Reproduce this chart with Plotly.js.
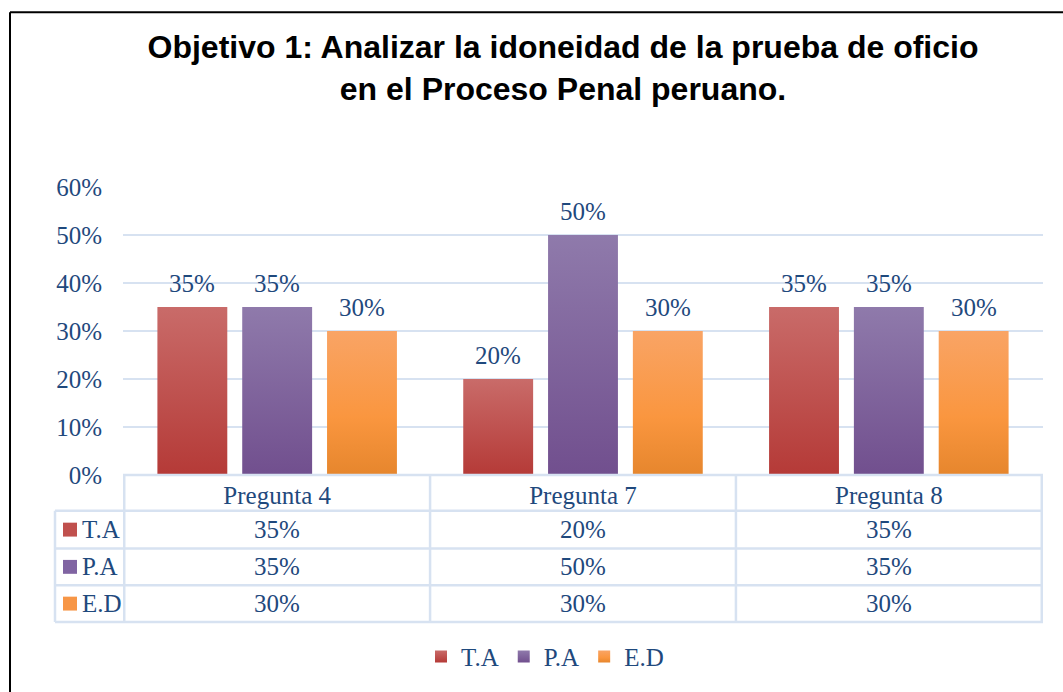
<!DOCTYPE html>
<html>
<head>
<meta charset="utf-8">
<script src="https://cdn.plot.ly/plotly-3.0.1.min.js"></script>
<style>
  html, body { margin: 0; padding: 0; background: #fff; }
  #chart { width: 1063px; height: 692px; }
</style>
</head>
<body>
<div id="chart"></div>
<script>
// ---------- data ----------
const categories = ['Pregunta 4', 'Pregunta 7', 'Pregunta 8'];
const seriesNames = ['T.A', 'P.A', 'E.D'];
const valuesTA = [0.35, 0.20, 0.35];
const valuesPA = [0.35, 0.50, 0.35];
const valuesED = [0.30, 0.30, 0.30];
const titleLines = ['Objetivo 1: Analizar la idoneidad de la prueba de oficio', 'en el Proceso Penal peruano.'];

// ---------- styling ----------
const seriesValues = [valuesTA, valuesPA, valuesED];
const solidColors = ['#C0504D', '#8064A2', '#F79646'];
const gradStops = [
  [['0%', '#C96B69'], ['100%', '#B53A37']],
  [['0%', '#8F7AAB'], ['100%', '#714F8E']],
  [['0%', '#F9A465'], ['60%', '#FA963F'], ['100%', '#E6862D']]
];
const textColor = '#1F497D';
const gridColor = '#D7E2F1';
const serif = 'Liberation Serif, Times New Roman, serif';
const W = 1063, H = 692;
const M = { l: 123, r: 20, t: 187, b: 215 };
const PW = W - M.l - M.r, PH = H - M.t - M.b;
const px = x => (x - M.l) / PW;          // page px -> paper x
const py = y => (H - M.b - y) / PH;      // page px -> paper y
const fmt = v => Math.round(v * 100) + '%';

const bargap = 0.168, bargroupgap = 0.176;
const slot = (1 - bargap) / seriesNames.length;

const traces = seriesNames.map((name, k) => ({
  type: 'bar',
  name: name,
  x: categories,
  y: seriesValues[k],
  marker: { color: solidColors[k], line: { width: 0 } },
  hoverinfo: 'none'
}));

const shapes = [];
const annotations = [];
const lineStyle = { color: gridColor, width: 2.5 };

// data labels above bars
seriesNames.forEach((name, k) => {
  seriesValues[k].forEach((v, i) => {
    annotations.push({
      xref: 'x', yref: 'y',
      x: i + (k - (seriesNames.length - 1) / 2) * slot,
      y: v, yshift: 24,
      text: fmt(v), showarrow: false,
      xanchor: 'center', yanchor: 'middle',
      font: { family: serif, size: 25, color: textColor }
    });
  });
});

// data table
const rowEdges = [513, 551, 588, 625];
const tableLeft = 55;
const yTop = 0, yBottom = py(rowEdges[rowEdges.length - 1]);
for (let i = 0; i <= categories.length; i++) {
  shapes.push({ type: 'line', xref: 'x', yref: 'paper', x0: i - 0.5, x1: i - 0.5, y0: yTop, y1: yBottom, line: lineStyle });
}
shapes.push({ type: 'line', xref: 'paper', yref: 'paper', x0: px(tableLeft), x1: px(tableLeft), y0: py(rowEdges[0]), y1: yBottom, line: lineStyle });
shapes.push({ type: 'line', xref: 'paper', yref: 'paper', x0: 0, x1: 1, y0: 0, y1: 0, line: lineStyle });
rowEdges.forEach(r => {
  shapes.push({ type: 'line', xref: 'paper', yref: 'paper', x0: px(tableLeft), x1: 1, y0: py(r), y1: py(r), line: lineStyle });
});
seriesNames.forEach((name, k) => {
  const yc = (py(rowEdges[k]) + py(rowEdges[k + 1])) / 2;
  shapes.push({ type: 'rect', xref: 'paper', yref: 'paper', x0: px(63), x1: px(77), y0: yc - 7 / PH, y1: yc + 7 / PH, fillcolor: solidColors[k], line: { width: 0 } });
  annotations.push({
    xref: 'paper', yref: 'paper', x: px(80), y: yc, text: name, showarrow: false,
    xanchor: 'left', yanchor: 'middle', font: { family: serif, size: 25, color: textColor }
  });
  seriesValues[k].forEach((v, i) => {
    annotations.push({
      xref: 'x', yref: 'paper', x: i, y: yc, text: fmt(v), showarrow: false,
      xanchor: 'center', yanchor: 'middle', font: { family: serif, size: 25, color: textColor }
    });
  });
});

// outer chart border (left + top)
shapes.push({ type: 'line', xref: 'paper', yref: 'paper', x0: px(10), x1: px(10), y0: py(11), y1: py(H + 5), line: { color: '#000', width: 2 } });
shapes.push({ type: 'line', xref: 'paper', yref: 'paper', x0: px(10), x1: px(W + 5), y0: py(11), y1: py(11), line: { color: '#000', width: 2 } });

const layout = {
  width: W, height: H,
  margin: M,
  paper_bgcolor: '#fff', plot_bgcolor: '#fff',
  barmode: 'group', bargap: bargap, bargroupgap: bargroupgap,
  title: {
    text: titleLines.map(t => '<b>' + t + '</b>').join('<br>'),
    font: { family: 'Liberation Sans, Arial, sans-serif', size: 32, color: '#000' },
    xref: 'container', yref: 'container',
    x: 563 / W, xanchor: 'center',
    y: 1 - 58 / H, yanchor: 'top'
  },
  xaxis: {
    type: 'category', showgrid: false, zeroline: false, showline: false,
    ticks: '', ticklabelstandoff: 3,
    tickfont: { family: serif, size: 25, color: textColor }
  },
  yaxis: {
    range: [0, 0.6], dtick: 0.1, tickformat: '.0%',
    showgrid: true, gridcolor: gridColor, gridwidth: 2,
    zeroline: false, showline: false, ticks: '', ticklabelstandoff: 20,
    tickfont: { family: serif, size: 25, color: textColor }
  },
  showlegend: true,
  legend: {
    orientation: 'h', x: px(545), xanchor: 'center', y: py(660), yanchor: 'middle',
    font: { family: serif, size: 25, color: textColor },
    itemclick: false, itemdoubleclick: false
  },
  shapes: shapes,
  annotations: annotations
};

Plotly.newPlot('chart', traces, layout, { displayModeBar: false, staticPlot: true }).then(gd => {
  const NS = 'http://www.w3.org/2000/svg';
  const svg = gd.querySelector('.main-svg');
  let defs = svg.querySelector('defs');
  if (!defs) { defs = document.createElementNS(NS, 'defs'); svg.insertBefore(defs, svg.firstChild); }
  gradStops.forEach((stops, k) => {
    const g = document.createElementNS(NS, 'linearGradient');
    g.setAttribute('id', 'barGrad' + k);
    g.setAttribute('x1', '0'); g.setAttribute('y1', '0');
    g.setAttribute('x2', '0'); g.setAttribute('y2', '1');
    stops.forEach(([off, col]) => {
      const s = document.createElementNS(NS, 'stop');
      s.setAttribute('offset', off); s.setAttribute('stop-color', col);
      g.appendChild(s);
    });
    defs.appendChild(g);
  });
  gd.querySelectorAll('.barlayer .trace').forEach((tr, k) => {
    tr.querySelectorAll('.point path').forEach(p => { p.style.fill = 'url(#barGrad' + k + ')'; });
  });
  gd.querySelectorAll('.legend .traces').forEach((tr, k) => {
    tr.querySelectorAll('.legendpoints path').forEach(p => { p.style.fill = 'url(#barGrad' + k + ')'; });
  });
});
</script>
</body>
</html>
